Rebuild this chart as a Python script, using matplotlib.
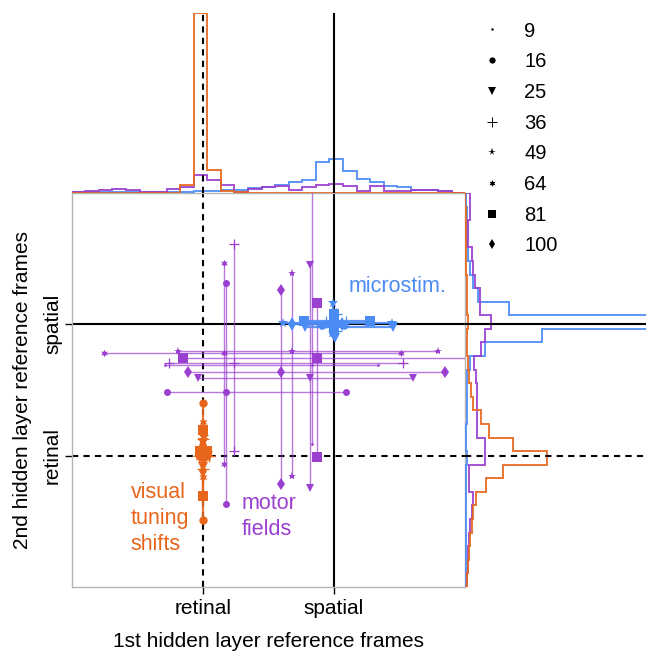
import numpy as np
import matplotlib
matplotlib.use('Agg')
import matplotlib.pyplot as plt
from matplotlib.lines import Line2D

plt.rcParams['font.family'] = ['Liberation Sans', 'DejaVu Sans']

# reference frames: 0 = retinal, 1 = spatial
# network sizes (hidden units) shown with different markers
sizes = [9, 16, 25, 36, 49, 64, 81, 100]

# motor fields (purple): centre and ranges for each network
motor_x = [0.833, 0.174, 0.816, 0.234, 0.679, 0.158, 0.871, 0.594]
motor_y = [0.688, 0.488, 0.593, 0.708, 0.798, 0.785, 0.744, 0.637]
motor_xlo = [-0.291, -0.276, -0.039, -0.259, -0.187, -0.751, -0.152, -0.111]
motor_xhi = [1.339, 1.089, 1.599, 1.523, 1.794, 1.511, 2.3, 1.847]
motor_ylo = [0.092, -0.366, -0.246, 0.035, -0.157, -0.067, -0.011, -0.213]
motor_yhi = [2.2, 1.315, 1.455, 1.609, 1.391, 1.468, 1.161, 1.259]

# microstimulation (blue)
micro_x = [0.998, 0.990, 1.005, 1.013, 0.990, 0.982, 0.998, 0.990]
micro_y = [1.008, 0.992, 0.977, 1.016, 1.008, 0.992, 1.023, 1.000]
micro_xlo = [0.839, 0.907, 0.778, 0.937, 0.611, 0.892, 0.770, 0.679]
micro_xhi = [1.089, 1.074, 1.453, 1.089, 1.445, 1.081, 1.278, 1.058]
micro_ylo = [0.962, 0.939, 0.893, 0.946, 0.939, 0.923, 0.962, 0.939]
micro_yhi = [1.046, 1.054, 1.038, 1.077, 1.161, 1.061, 1.077, 1.061]

# visual tuning shifts (orange)
visual_x = [0.0, 0.0, 0.005, 0.0, 0.01, 0.0, 0.0, 0.0]
visual_y = [0.01, 0.002, 0.0, 0.0, -0.01, 0.0, 0.033, 0.0]
visual_xlo = [-0.02, -0.03, -0.02, -0.03, -0.03, -0.02, -0.02, -0.02]
visual_xhi = [0.02, 0.03, 0.04, 0.05, 0.04, 0.03, 0.03, 0.02]
visual_ylo = [-0.08, -0.489, -0.09, -0.105, -0.044, -0.159, -0.305, -0.118]
visual_yhi = [0.10, 0.401, 0.094, 0.125, 0.14, 0.258, 0.194, 0.079]

# marginal histograms (29 bins between -1 and 2)
top_blue = [0.7, 0.7, 0.7, 0.7, 0.7, 0.7, 0.7, 0.7, 0.7, 1.7, 1.7, 2.7, 3.3, 4.7, 6, 7.7,
            10.7, 13, 31, 34, 22.3, 14, 11, 6.7, 5.7, 3.3, 3.3, 2.3, 0]
top_purple = [1, 1.7, 2.7, 3.7, 2.7, 1.3, 1.3, 4.3, 5.7, 17.7, 13, 7.7, 1, 4.3, 5.7, 6.7,
              2.7, 6, 8, 9.3, 6.7, 2.3, 6.7, 2, 2.3, 2.7, 2.7, 2.3, 0]
top_orange = [0, 0, 0, 0, 0, 0, 0, 0, 8.3, 180.5, 22.7, 2, 1, 0, 0, 0,
              0, 0, 0, 0, 0, 0, 0, 0, 0, 0, 0, 0, 0]
right_blue = [1, 1, 1, 1, 1, 1, 1, 1, 1, 2, 1, 1, 2, 2, 2, 2,
              5, 20, 77, 260, 44, 13, 8, 5, 3, 2, 2, 2, 1]
right_purple = [2, 3, 3, 4, 5, 7, 8, 4, 4, 20, 20, 12, 12, 12, 12, 11,
                9, 16, 20, 26, 15, 15, 10, 8, 7, 3, 3, 5, 5]
right_orange = [2, 3, 4, 5, 7, 8, 11, 21, 38, 82, 48, 24, 16, 8, 6, 4,
                 3, 2, 2, 3, 2, 2, 2, 1, 1, 1, 1, 1, 0]

markers = ['.', 'o', 'v', '+', '*', (6, 1, 0), 's', 'd']
msizes = [4, 5, 6, 7, 6, 5.5, 6.5, 6]

c_orange = '#e8661c'
c_purple = '#9a3fd0'
c_blue = '#4b8bf4'

fig = plt.figure(figsize=(6.46, 6.52), dpi=100)
ax = fig.add_axes([0.111, 0.0997, 0.609, 0.6043])
ax_top = fig.add_axes([0.111, 0.7040, 0.609, 0.2768])
ax_right = fig.add_axes([0.720, 0.0997, 0.280, 0.6043])


def draw_cross(ax, xc, yc, xlo, xhi, ylo, yhi, marker, ms, color, lw, alpha):
    # horizontal and vertical range with markers at both ends and at the centre
    ax.plot([xlo, xhi], [yc, yc], '-', color=color, lw=lw, alpha=alpha, zorder=3)
    ax.plot([xc, xc], [ylo, yhi], '-', color=color, lw=lw, alpha=alpha, zorder=3)
    mew = 0.9 if marker == '+' else 0
    ax.plot([xlo, xc, xhi], [yc, yc, yc], ls='none', marker=marker, ms=ms,
            color=color, mew=mew, zorder=4)
    ax.plot([xc, xc], [ylo, yhi], ls='none', marker=marker, ms=ms,
            color=color, mew=mew, zorder=4)


# reference lines
ax.axvline(1, color='k', lw=1.5, zorder=2)
ax.axhline(1, color='k', lw=1.5, zorder=2)
ax.axvline(0, color='k', lw=1.5, ls=(0, (3, 2.5)), zorder=2)
ax.axhline(0, color='k', lw=1.5, ls=(0, (3, 2.5)), zorder=2)

for i in range(len(sizes)):
    draw_cross(ax, motor_x[i], motor_y[i], motor_xlo[i], motor_xhi[i],
               motor_ylo[i], motor_yhi[i], markers[i], msizes[i], c_purple, 1.0, 0.7)
for i in range(len(sizes)):
    draw_cross(ax, micro_x[i], micro_y[i], micro_xlo[i], micro_xhi[i],
               micro_ylo[i], micro_yhi[i], markers[i], msizes[i] + 1, c_blue, 1.6, 0.9)
for i in range(len(sizes)):
    draw_cross(ax, visual_x[i], visual_y[i], visual_xlo[i], visual_xhi[i],
               visual_ylo[i], visual_yhi[i], markers[i], msizes[i] + 1, c_orange, 1.6, 0.9)

ax.text(1.111, 1.29, 'microstim.', color=c_blue, fontsize=15.5, va='center', ha='left')
ax.text(-0.549, -0.48, 'visual\ntuning\nshifts', color=c_orange, fontsize=15.5,
        va='center', ha='left', linespacing=1.32)
ax.text(0.298, -0.46, 'motor\nfields', color=c_purple, fontsize=15.5,
        va='center', ha='left', linespacing=1.32)

ax.set_xlim(-1, 2)
ax.set_ylim(-1, 2)
ax.set_xticks([0, 1])
ax.set_xticklabels(['retinal', 'spatial'], fontsize=15)
ax.set_yticks([0, 1])
ax.set_yticklabels(['retinal', 'spatial'], fontsize=15, rotation=90, va='center')
ax.tick_params(direction='out', length=5, width=1, color='k', pad=4)
ax.tick_params(axis='y', pad=2)
for s in ax.spines.values():
    s.set_color('#b4b4b4')
    s.set_linewidth(1.0)
ax.set_xlabel('1st hidden layer reference frames', fontsize=15, labelpad=10)
ax.set_ylabel('2nd hidden layer reference frames', fontsize=15, labelpad=8)

# marginal histograms
edges = np.linspace(-1, 2, 30)
ax_top.stairs(top_blue, edges, color=c_blue, lw=1.4, alpha=0.9)
ax_top.stairs(top_purple, edges, color=c_purple, lw=1.4, alpha=0.9)
ax_top.stairs(top_orange, edges, color=c_orange, lw=1.4, alpha=0.9)
ax_top.axvline(1, color='k', lw=1.5)
ax_top.axvline(0, color='k', lw=1.5, ls=(0, (3, 2.5)))
ax_top.set_xlim(-1, 2)
ax_top.set_ylim(0, 181)
ax_top.axis('off')

ax_right.stairs(right_blue, edges, orientation='horizontal', color=c_blue, lw=1.4, alpha=0.9)
ax_right.stairs(right_purple, edges, orientation='horizontal', color=c_purple, lw=1.4, alpha=0.9)
ax_right.stairs(right_orange, edges, orientation='horizontal', color=c_orange, lw=1.4, alpha=0.9)
ax_right.axhline(1, color='k', lw=1.5)
ax_right.axhline(0, color='k', lw=1.5, ls=(0, (3, 2.5)))
ax_right.set_ylim(-1, 2)
ax_right.set_xlim(0, 181)
ax_right.axis('off')

# legend of network sizes
handles = []
for i in range(len(sizes)):
    handles.append(Line2D([], [], ls='none', marker=markers[i], ms=msizes[i] - 0.5,
                          color='k', mew=0.7 if markers[i] == '+' else 0))
fig.legend(handles, [str(s) for s in sizes], loc='upper left',
           bbox_to_anchor=(0.746, 0.967), frameon=False, fontsize=14.5,
           handlelength=1.0, handletextpad=1.1, labelspacing=0.58, borderpad=0,
           borderaxespad=0)

fig.savefig('out.png', dpi=100)
